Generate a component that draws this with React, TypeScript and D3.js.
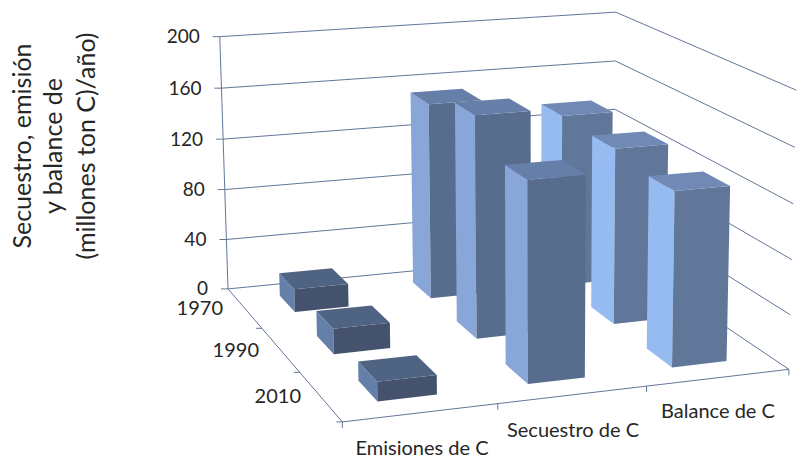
import React from "react";
import * as d3 from "d3";

const categories = ["Emisiones de C", "Secuestro de C", "Balance de C"];
const years = ["1970", "1990", "2010"];
const emisiones = [18, 19, 14];
const secuestro = [153, 167, 145];
const balance = [136, 134, 128];
const seriesByCategory = [emisiones, secuestro, balance];
const valueTicks = [0, 40, 80, 120, 160, 200];
const titleLines = ["Secuestro, emisión", "y balance de", "(millones ton C)/año)"];

// Face colours per category: side, front, top
const faceColors = [
  { side: "#647fa8", front: "#44526e", top: "#4f6483" },
  { side: "#88a7d8", front: "#586d8e", top: "#667fa8" },
  { side: "#96bbf0", front: "#617799", top: "#7089b5" },
];
const axisColor = "#63779a";
const textColor = "#262626";
const fontFamily = "Lato, 'Open Sans', sans-serif";

// Where the plot box falls on screen: [across, depth, height] -> [px, py]
const boxAnchors: [number, number, number, number, number][] = [
  [0, 0, 0, 229, 289],
  [1, 0, 0, 615, 252],
  [1, 1, 0, 788, 368],
  [0, 1, 0, 345, 422],
  [0, 0, 1, 220, 37],
  [1, 0, 1, 615, 12],
  [1, 1, 1, 797, 90],
  [1 / 3, 1, 0, 498, 405],
  [2 / 3, 1, 0, 646, 387],
  [0, 1 / 3, 0, 260, 327],
  [0, 2 / 3, 0, 298, 372],
];

// Least-squares fit of a perspective camera through the anchors
function fitCamera(anchors: typeof boxAnchors): number[] {
  const rows: number[][] = [];
  const rhs: number[] = [];
  for (const [u, v, h, x, y] of anchors) {
    rows.push([u, v, h, 1, 0, 0, 0, 0, -x * u, -x * v, -x * h]);
    rhs.push(x);
    rows.push([0, 0, 0, 0, u, v, h, 1, -y * u, -y * v, -y * h]);
    rhs.push(y);
  }
  const n = 11;
  const m: number[][] = Array.from({ length: n }, (_, i) =>
    Array.from({ length: n + 1 }, (_, j) =>
      d3.sum(rows, (r, k) => r[i] * (j < n ? r[j] : rhs[k]))
    )
  );
  for (let c = 0; c < n; c++) {
    let p = c;
    for (let r = c + 1; r < n; r++) if (Math.abs(m[r][c]) > Math.abs(m[p][c])) p = r;
    [m[c], m[p]] = [m[p], m[c]];
    for (let r = 0; r < n; r++) {
      if (r === c) continue;
      const f = m[r][c] / m[c][c];
      for (let j = c; j <= n; j++) m[r][j] -= f * m[c][j];
    }
  }
  return m.map((row, i) => row[n] / row[i]);
}

const cam = fitCamera(boxAnchors);
const project = (u: number, v: number, h: number): [number, number] => {
  const w = cam[8] * u + cam[9] * v + cam[10] * h + 1;
  return [
    (cam[0] * u + cam[1] * v + cam[2] * h + cam[3]) / w,
    (cam[4] * u + cam[5] * v + cam[6] * h + cam[7]) / w,
  ];
};

const xBand = d3.scaleBand<string>().domain(categories).range([0, 1]).paddingInner(0.61).paddingOuter(0.31);
const zBand = d3.scaleBand<string>().domain(years).range([0, 1]).paddingInner(0.58).paddingOuter(0.29);
const yScale = d3.scaleLinear().domain([0, 200]).range([0, 1]);
const path = d3.line();
const poly = (pts: [number, number][]) => path(pts) + "Z";

const yearLabelPos = [
  { x: 223, y: 315 },
  { x: 259, y: 357 },
  { x: 301, y: 403 },
];
const categoryLabelPos = [
  { x: 422, y: 455 },
  { x: 573, y: 437 },
  { x: 718, y: 418 },
];
const titleBaselines = [31, 62, 95];

function Bar({ ci, yi }: { ci: number; yi: number }) {
  const u0 = xBand(categories[ci])!;
  const u1 = u0 + xBand.bandwidth();
  const v0 = zBand(years[yi])!;
  const v1 = v0 + zBand.bandwidth();
  const h = yScale(seriesByCategory[ci][yi]);
  const c = faceColors[ci];
  return (
    <g>
      <path d={poly([project(u0, v0, 0), project(u0, v1, 0), project(u0, v1, h), project(u0, v0, h)])} fill={c.side} />
      <path d={poly([project(u0, v1, 0), project(u1, v1, 0), project(u1, v1, h), project(u0, v1, h)])} fill={c.front} />
      <path d={poly([project(u0, v0, h), project(u1, v0, h), project(u1, v1, h), project(u0, v1, h)])} fill={c.top} />
    </g>
  );
}

export default function App() {
  const line = (a: [number, number], b: [number, number], key: string) => (
    <line key={key} x1={a[0]} y1={a[1]} x2={b[0]} y2={b[1]} stroke={axisColor} strokeWidth={1} />
  );
  const drawOrder = years.flatMap((_, yi) => [2, 1, 0].map((ci) => ({ ci, yi })));
  return (
    <svg width={798} height={458} style={{ position: "fixed", left: 0, top: 0, background: "#fff" }} fontFamily={fontFamily}>
      {valueTicks.map((t) => {
        const h = yScale(t);
        const a = project(0, 0, h);
        return (
          <g key={t}>
            {line(a, project(1, 0, h), `b${t}`)}
            {line(project(1, 0, h), project(1, 1, h), `r${t}`)}
            {line([a[0] - 7, a[1]], a, `t${t}`)}
            <text x={a[0] - 20} y={a[1] + 6.5} textAnchor="end" fontSize={19} fill={textColor}>{t}</text>
          </g>
        );
      })}
      {line(project(0, 0, 0), project(0, 0, 1), "yaxis")}
      {line(project(0, 0, 0), project(0, 1, 0), "zaxis")}
      {line(project(0, 1, 0), project(1, 1, 0), "xaxis")}
      {[1 / 3, 2 / 3, 1].map((v) => {
        const p = project(0, v, 0);
        return line([p[0] - 6, p[1]], p, `zt${v}`);
      })}
      {[0, 1 / 3, 2 / 3, 1].map((u) => {
        const p = project(u, 1, 0);
        return line(p, [p[0], p[1] + 6], `xt${u}`);
      })}
      {drawOrder.map(({ ci, yi }) => <Bar key={`${ci}-${yi}`} ci={ci} yi={yi} />)}
      {years.map((y, i) => (
        <text key={y} x={yearLabelPos[i].x} y={yearLabelPos[i].y} textAnchor="end" fontSize={20} fill={textColor}>{y}</text>
      ))}
      {categories.map((c, i) => (
        <text key={c} x={categoryLabelPos[i].x} y={categoryLabelPos[i].y} textAnchor="middle" fontSize={20} fill={textColor}>{c}</text>
      ))}
      {titleLines.map((t, i) => (
        <text key={t} transform={`translate(${titleBaselines[i]},146) rotate(-90)`} textAnchor="middle" fontSize={25} fill={textColor}>{t}</text>
      ))}
    </svg>
  );
}
